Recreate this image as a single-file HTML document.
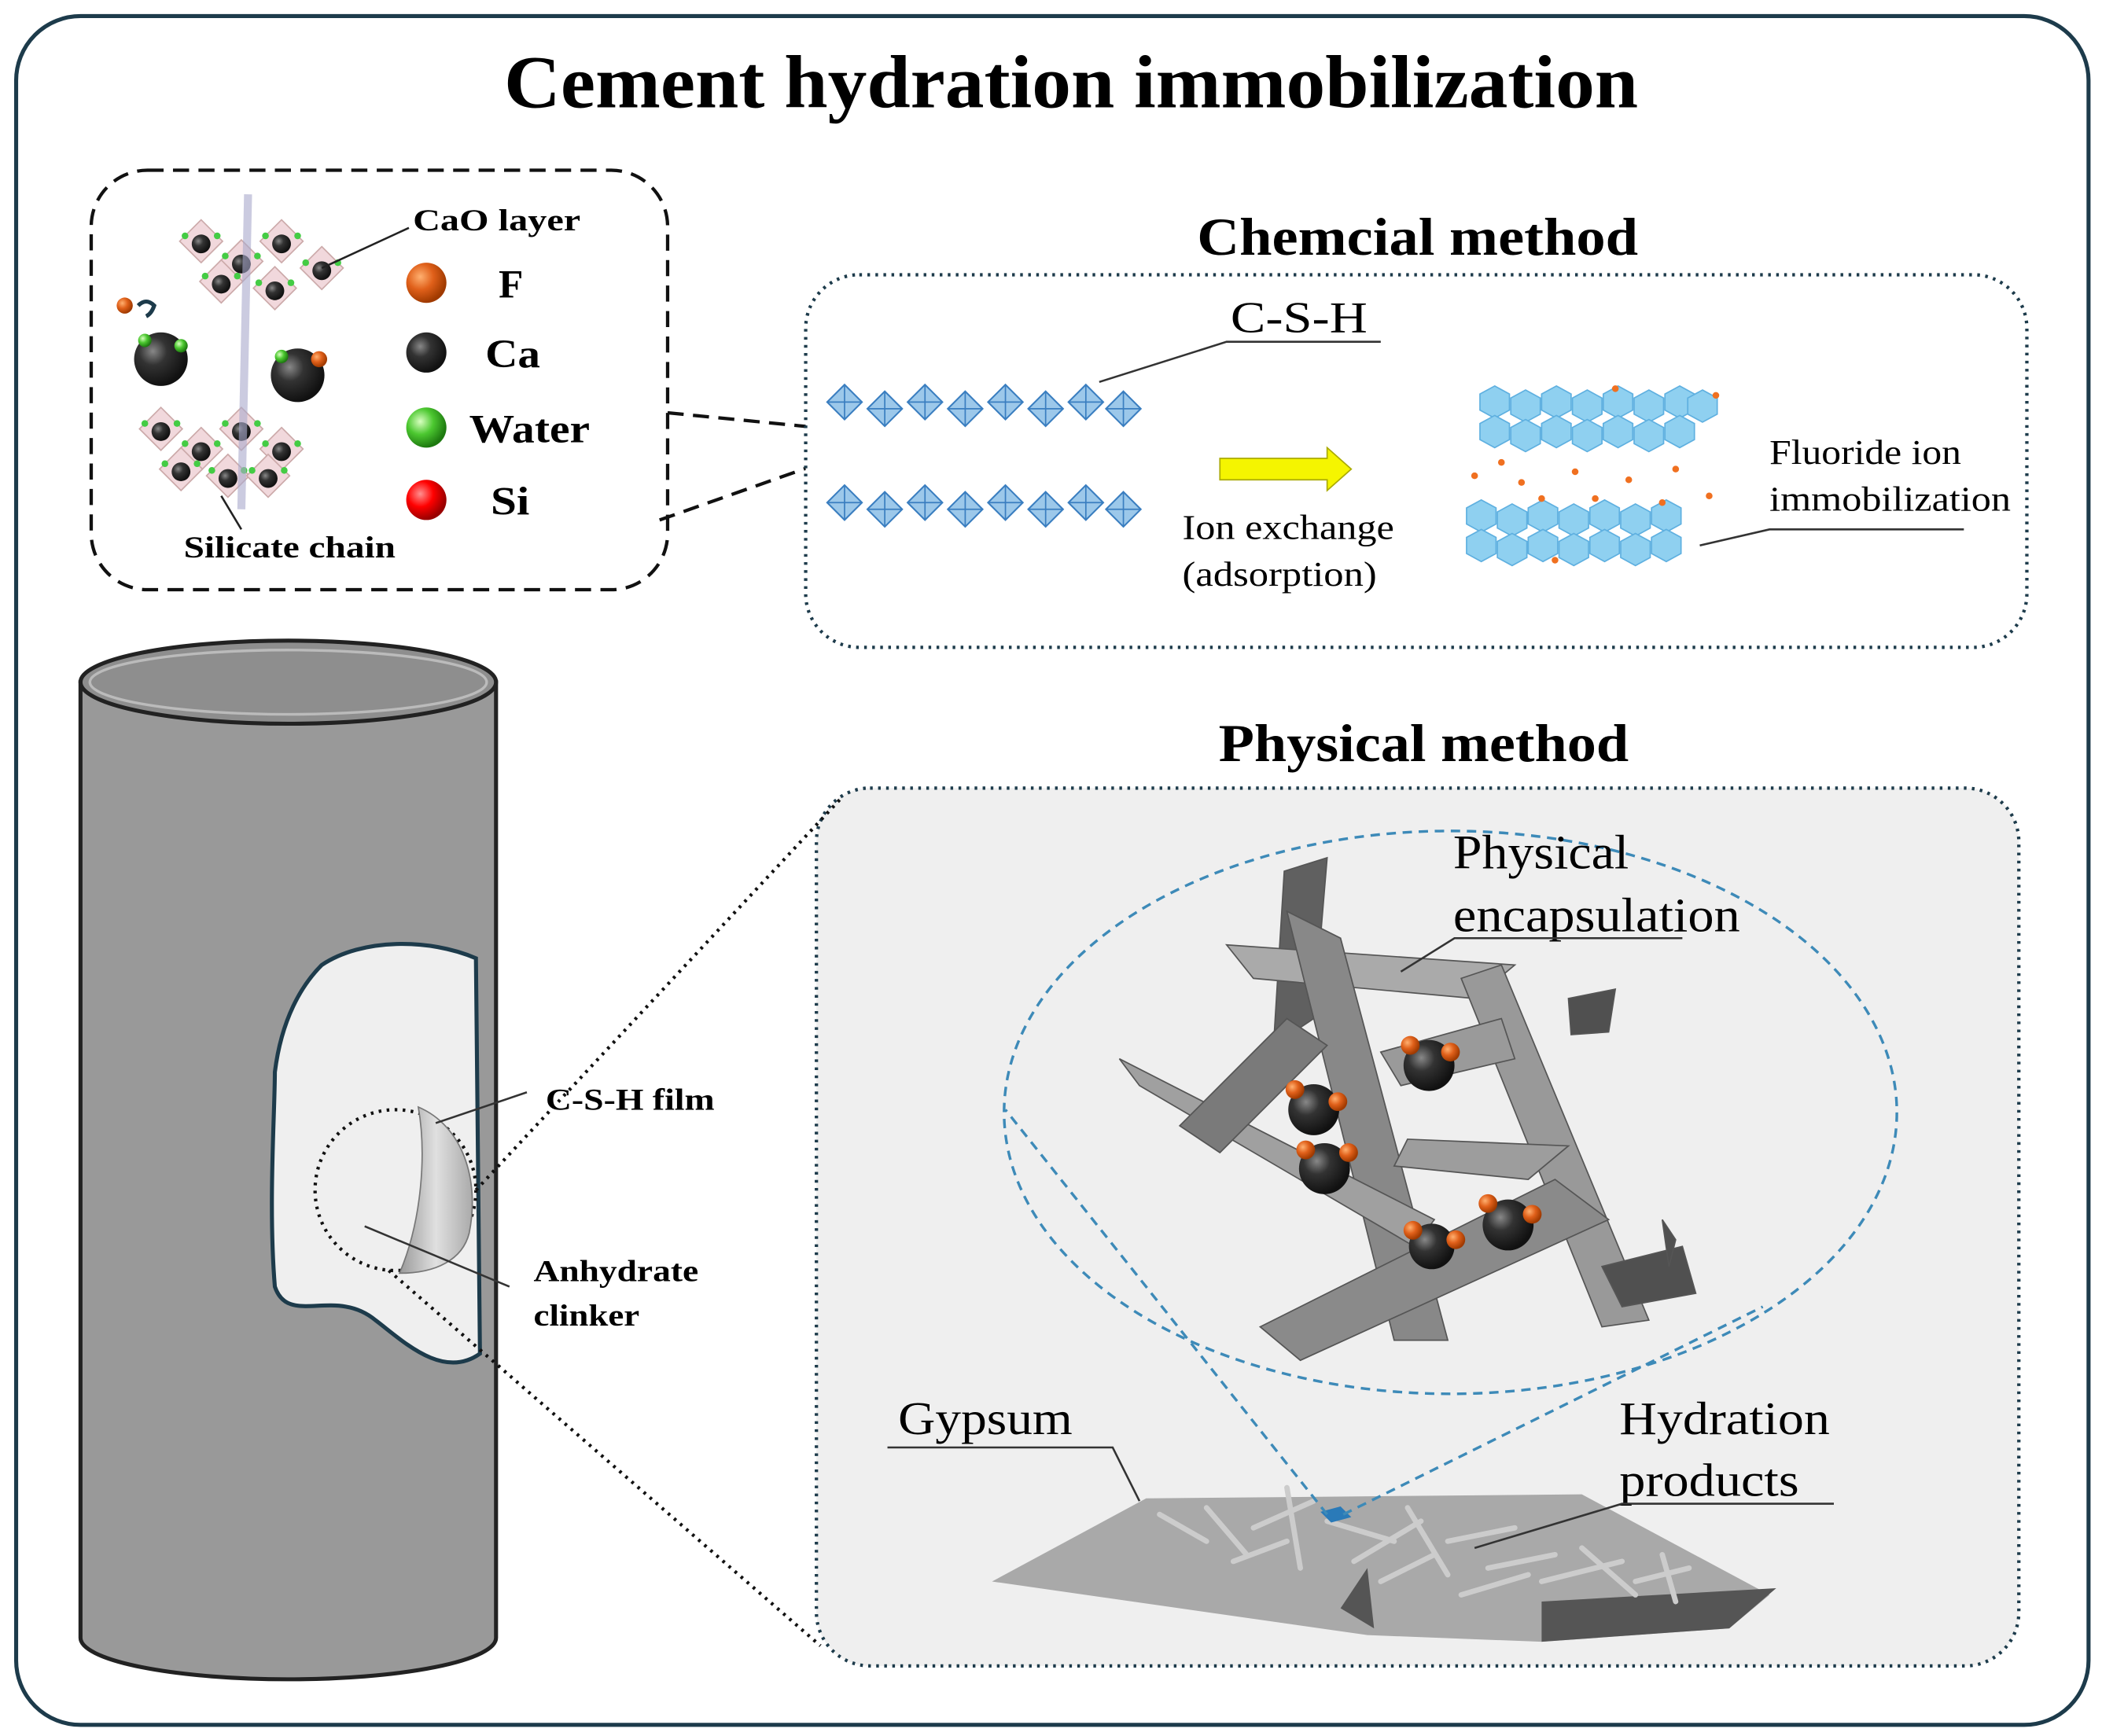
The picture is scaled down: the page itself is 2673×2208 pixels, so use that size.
<!DOCTYPE html>
<html><head><meta charset="utf-8"><style>
html,body{margin:0;padding:0;background:#fff}
svg{display:block}
text{font-family:"Liberation Serif",serif}
</style></head><body>
<svg width="2673" height="2208" viewBox="0 0 1568 1295.3" xmlns="http://www.w3.org/2000/svg">
<defs>
<radialGradient id="ball" cx="35%" cy="35%" r="65%"><stop offset="0" stop-color="#888"/><stop offset="0.4" stop-color="#333"/><stop offset="1" stop-color="#111"/></radialGradient>
<radialGradient id="orb" cx="35%" cy="35%" r="65%"><stop offset="0" stop-color="#ffb070"/><stop offset="0.5" stop-color="#e0601a"/><stop offset="1" stop-color="#a03a00"/></radialGradient>
<radialGradient id="grn" cx="35%" cy="35%" r="65%"><stop offset="0" stop-color="#d8ffc0"/><stop offset="0.5" stop-color="#4cc830"/><stop offset="1" stop-color="#1e7a10"/></radialGradient>
<radialGradient id="red" cx="35%" cy="35%" r="65%"><stop offset="0" stop-color="#ff9090"/><stop offset="0.5" stop-color="#f00"/><stop offset="1" stop-color="#900"/></radialGradient>
<linearGradient id="film" x1="0" x2="1"><stop offset="0" stop-color="#999"/><stop offset="0.5" stop-color="#e0e0e0"/><stop offset="1" stop-color="#aaa"/></linearGradient>
<g id="hex"><polygon points="0,-12 11,-6 11,6 0,12 -11,6 -11,-6" fill="#8fd0f0" stroke="#5fb0e0" stroke-width="1"/></g>
<g id="oct"><polygon points="0,-13 13,0 0,13 -13,0" fill="#9cc8ea" stroke="#3a7ec0" stroke-width="1.2"/><line x1="0" y1="-13" x2="0" y2="13" stroke="#3a7ec0"/><line x1="-13" y1="0" x2="13" y2="0" stroke="#3a7ec0"/></g>
<g id="ptile"><polygon points="0,-16 16,0 0,16 -16,0" fill="#f1d8dc" stroke="#caa" stroke-width="1"/><circle cx="0" cy="2" r="7" fill="url(#ball)"/><circle cx="-12" cy="-4" r="2.5" fill="#4c4"/><circle cx="12" cy="-4" r="2.5" fill="#4c4"/></g>
</defs>

<rect x="12" y="12" width="1546" height="1275" rx="48" fill="#fff" stroke="#1d3b4b" stroke-width="3"/>
<text x="376" y="80" font-size="56" font-weight="bold" textLength="846" lengthAdjust="spacingAndGlyphs">Cement hydration immobilization</text>

<!-- top-left dashed box -->
<rect x="68" y="127" width="430" height="313" rx="42" fill="#fff" stroke="#111" stroke-width="2.5" stroke-dasharray="12,7"/>
<g>
<use href="#ptile" x="150" y="180"/><use href="#ptile" x="180" y="195"/><use href="#ptile" x="210" y="180"/><use href="#ptile" x="240" y="200"/><use href="#ptile" x="165" y="210"/><use href="#ptile" x="205" y="215"/>
<use href="#ptile" x="120" y="320"/><use href="#ptile" x="150" y="335"/><use href="#ptile" x="180" y="320"/><use href="#ptile" x="210" y="335"/><use href="#ptile" x="135" y="350"/><use href="#ptile" x="170" y="355"/><use href="#ptile" x="200" y="355"/>
<line x1="185" y1="145" x2="180" y2="380" stroke="#aac" stroke-width="6" opacity="0.6"/>
<circle cx="120" cy="268" r="20" fill="url(#ball)"/><circle cx="108" cy="254" r="5" fill="url(#grn)"/><circle cx="135" cy="258" r="5" fill="url(#grn)"/>
<circle cx="222" cy="280" r="20" fill="url(#ball)"/><circle cx="238" cy="268" r="6" fill="url(#orb)"/><circle cx="210" cy="266" r="5" fill="url(#grn)"/>
<circle cx="93" cy="228" r="6" fill="url(#orb)"/><path d="M103,228 q6,-6 12,0 q-2,6 -6,8" fill="none" stroke="#1d3b4b" stroke-width="3"/>
<line x1="240" y1="200" x2="305" y2="170" stroke="#222" stroke-width="1.5"/>
<line x1="165" y1="370" x2="180" y2="395" stroke="#222" stroke-width="1.5"/>
</g>
<text x="308" y="172" font-size="23" font-weight="bold" textLength="125" lengthAdjust="spacingAndGlyphs">CaO  layer</text>
<circle cx="318" cy="211" r="15" fill="url(#orb)"/><text x="372" y="222" font-size="30" font-weight="bold">F</text>
<circle cx="318" cy="263" r="15" fill="url(#ball)"/><text x="362" y="274" font-size="30" font-weight="bold" textLength="41" lengthAdjust="spacingAndGlyphs">Ca</text>
<circle cx="318" cy="319" r="15" fill="url(#grn)"/><text x="350" y="330" font-size="30" font-weight="bold" textLength="90" lengthAdjust="spacingAndGlyphs">Water</text>
<circle cx="318" cy="373" r="15" fill="url(#red)"/><text x="366" y="384" font-size="30" font-weight="bold" textLength="29" lengthAdjust="spacingAndGlyphs">Si</text>
<text x="137" y="416" font-size="23" font-weight="bold" textLength="158" lengthAdjust="spacingAndGlyphs">Silicate  chain</text>

<line x1="498" y1="308" x2="640" y2="322" stroke="#111" stroke-width="2.5" stroke-dasharray="12,7"/>
<line x1="492" y1="388" x2="690" y2="318" stroke="#111" stroke-width="2.5" stroke-dasharray="12,7"/>

<!-- Chemical -->
<text x="893" y="190" font-size="40" font-weight="bold" textLength="329" lengthAdjust="spacingAndGlyphs">Chemcial method</text>
<rect x="601" y="205" width="911" height="278" rx="40" fill="#fff" stroke="#1d3b4b" stroke-width="2.5" stroke-dasharray="2,4"/>
<g>
<use href="#oct" x="630" y="300"/><use href="#oct" x="660" y="305"/><use href="#oct" x="690" y="300"/><use href="#oct" x="720" y="305"/><use href="#oct" x="750" y="300"/><use href="#oct" x="780" y="305"/><use href="#oct" x="810" y="300"/><use href="#oct" x="838" y="305"/>
<use href="#oct" x="630" y="375"/><use href="#oct" x="660" y="380"/><use href="#oct" x="690" y="375"/><use href="#oct" x="720" y="380"/><use href="#oct" x="750" y="375"/><use href="#oct" x="780" y="380"/><use href="#oct" x="810" y="375"/><use href="#oct" x="838" y="380"/>
</g>
<polyline points="820,285 915,255 1030,255" fill="none" stroke="#333" stroke-width="1.5"/>
<text x="918" y="248" font-size="33" textLength="102" lengthAdjust="spacingAndGlyphs">C-S-H</text>
<polygon points="910,342 990,342 990,334 1008,350 990,366 990,358 910,358" fill="#f5f500" stroke="#aa0" stroke-width="1"/>
<text x="882" y="402" font-size="26" textLength="158" lengthAdjust="spacingAndGlyphs">Ion exchange</text>
<text x="882" y="437" font-size="26" textLength="145" lengthAdjust="spacingAndGlyphs">(adsorption)</text>
<g>
<use href="#hex" x="1115" y="300"/><use href="#hex" x="1138" y="303"/><use href="#hex" x="1161" y="300"/><use href="#hex" x="1184" y="303"/><use href="#hex" x="1207" y="300"/><use href="#hex" x="1230" y="303"/><use href="#hex" x="1253" y="300"/><use href="#hex" x="1270" y="303"/>
<use href="#hex" x="1115" y="322"/><use href="#hex" x="1138" y="325"/><use href="#hex" x="1161" y="322"/><use href="#hex" x="1184" y="325"/><use href="#hex" x="1207" y="322"/><use href="#hex" x="1230" y="325"/><use href="#hex" x="1253" y="322"/>
<use href="#hex" x="1105" y="385"/><use href="#hex" x="1128" y="388"/><use href="#hex" x="1151" y="385"/><use href="#hex" x="1174" y="388"/><use href="#hex" x="1197" y="385"/><use href="#hex" x="1220" y="388"/><use href="#hex" x="1243" y="385"/>
<use href="#hex" x="1105" y="407"/><use href="#hex" x="1128" y="410"/><use href="#hex" x="1151" y="407"/><use href="#hex" x="1174" y="410"/><use href="#hex" x="1197" y="407"/><use href="#hex" x="1220" y="410"/><use href="#hex" x="1243" y="407"/>
<g fill="#f07020"><circle cx="1100" cy="355" r="2.5"/><circle cx="1135" cy="360" r="2.5"/><circle cx="1175" cy="352" r="2.5"/><circle cx="1215" cy="358" r="2.5"/><circle cx="1250" cy="350" r="2.5"/><circle cx="1275" cy="370" r="2.5"/><circle cx="1205" cy="290" r="2.5"/><circle cx="1280" cy="295" r="2.5"/><circle cx="1150" cy="372" r="2.5"/><circle cx="1190" cy="372" r="2.5"/><circle cx="1240" cy="375" r="2.5"/><circle cx="1120" cy="345" r="2.5"/><circle cx="1160" cy="418" r="2.5"/></g>
</g>
<text x="1320" y="346" font-size="26" textLength="143" lengthAdjust="spacingAndGlyphs">Fluoride ion</text>
<text x="1320" y="381" font-size="26" textLength="180" lengthAdjust="spacingAndGlyphs">immobilization</text>
<polyline points="1268,407 1320,395 1465,395" fill="none" stroke="#333" stroke-width="1.5"/>

<!-- Physical -->
<text x="909" y="568" font-size="40" font-weight="bold" textLength="306" lengthAdjust="spacingAndGlyphs">Physical method</text>
<rect x="609" y="588" width="897" height="655" rx="40" fill="#efefef" stroke="#1d3b4b" stroke-width="2.5" stroke-dasharray="2,4"/>
<ellipse cx="1082" cy="830" rx="333" ry="210" fill="none" stroke="#3d8ab8" stroke-width="2" stroke-dasharray="7,5"/>
<g stroke="#555" stroke-width="1">
<polygon points="958,650 990,640 980,760 950,780" fill="#606060"/>
<polygon points="915,705 1130,720 1100,745 935,730" fill="#aaa"/>
<polygon points="960,680 1000,700 1080,1000 1040,1000" fill="#888"/>
<polygon points="1090,730 1120,720 1230,985 1195,990" fill="#999"/>
<polygon points="835,790 1070,910 1055,930 850,810" fill="#a0a0a0"/>
<polygon points="940,990 1160,880 1200,910 970,1015" fill="#8a8a8a"/>
<polygon points="880,840 960,760 990,780 910,860" fill="#7a7a7a"/>
<polygon points="1030,785 1120,760 1130,790 1045,810" fill="#9a9a9a"/>
<polygon points="1170,745 1205,738 1200,770 1172,772" fill="#505050"/>
<polygon points="1195,945 1255,930 1265,965 1210,975" fill="#505050"/>
<polygon points="1240,910 1250,925 1245,945" fill="#505050"/>
<polygon points="1050,850 1170,855 1140,880 1040,870" fill="#9d9d9d"/>
</g>
<g>
<circle cx="980" cy="828" r="19" fill="url(#ball)"/><circle cx="966" cy="813" r="7" fill="url(#orb)"/><circle cx="998" cy="822" r="7" fill="url(#orb)"/>
<circle cx="988" cy="872" r="19" fill="url(#ball)"/><circle cx="974" cy="858" r="7" fill="url(#orb)"/><circle cx="1006" cy="860" r="7" fill="url(#orb)"/>
<circle cx="1066" cy="795" r="19" fill="url(#ball)"/><circle cx="1052" cy="780" r="7" fill="url(#orb)"/><circle cx="1082" cy="785" r="7" fill="url(#orb)"/>
<circle cx="1068" cy="930" r="17" fill="url(#ball)"/><circle cx="1054" cy="918" r="7" fill="url(#orb)"/><circle cx="1086" cy="925" r="7" fill="url(#orb)"/>
<circle cx="1125" cy="914" r="19" fill="url(#ball)"/><circle cx="1110" cy="898" r="7" fill="url(#orb)"/><circle cx="1143" cy="906" r="7" fill="url(#orb)"/>
</g>
<text x="1084" y="648" font-size="36" textLength="131" lengthAdjust="spacingAndGlyphs">Physical</text>
<text x="1084" y="695" font-size="36" textLength="214" lengthAdjust="spacingAndGlyphs">encapsulation</text>
<polyline points="1045,725 1085,700 1255,700" fill="none" stroke="#333" stroke-width="1.5"/>
<polygon points="740,1180 855,1118 1180,1115 1320,1190 1290,1215 1150,1225 1020,1220" fill="#a9a9a9"/>
<polygon points="1150,1195 1325,1185 1290,1215 1150,1225" fill="#555"/>
<polygon points="1000,1200 1020,1170 1025,1215" fill="#555"/>
<g stroke="#ccc" stroke-width="4" stroke-linecap="round">
<line x1="865" y1="1130" x2="900" y2="1150"/><line x1="900" y1="1125" x2="930" y2="1160"/><line x1="935" y1="1140" x2="980" y2="1120"/><line x1="960" y1="1110" x2="970" y2="1170"/><line x1="990" y1="1135" x2="1040" y2="1150"/><line x1="1010" y1="1165" x2="1060" y2="1135"/><line x1="1050" y1="1125" x2="1080" y2="1175"/><line x1="1080" y1="1150" x2="1130" y2="1140"/><line x1="1110" y1="1170" x2="1160" y2="1160"/><line x1="1150" y1="1180" x2="1210" y2="1165"/><line x1="1180" y1="1155" x2="1220" y2="1190"/><line x1="1220" y1="1180" x2="1260" y2="1170"/><line x1="920" y1="1165" x2="960" y2="1150"/><line x1="1030" y1="1180" x2="1070" y2="1160"/><line x1="1090" y1="1190" x2="1140" y2="1175"/><line x1="1240" y1="1160" x2="1250" y2="1195"/>
</g>
<polygon points="985,1128 1000,1124 1008,1132 993,1136" fill="#2a7ab8"/>
<line x1="990" y1="1130" x2="750" y2="828" stroke="#3d8ab8" stroke-width="2" stroke-dasharray="7,5"/>
<line x1="1002" y1="1130" x2="1315" y2="975" stroke="#3d8ab8" stroke-width="2" stroke-dasharray="7,5"/>
<text x="670" y="1070" font-size="35" textLength="130" lengthAdjust="spacingAndGlyphs">Gypsum</text>
<polyline points="662,1080 830,1080 850,1120" fill="none" stroke="#333" stroke-width="1.5"/>
<text x="1208" y="1070" font-size="35" textLength="157" lengthAdjust="spacingAndGlyphs">Hydration</text>
<text x="1208" y="1116" font-size="35" textLength="134" lengthAdjust="spacingAndGlyphs">products</text>
<polyline points="1100,1155 1210,1122 1368,1122" fill="none" stroke="#333" stroke-width="1.5"/>

<!-- cylinder -->
<path d="M60,509 L60,1222 A155,31 0 0 0 370,1222 L370,509 Z" fill="#999" stroke="#222" stroke-width="3"/>
<ellipse cx="215" cy="509" rx="155" ry="31" fill="#8e8e8e" stroke="#222" stroke-width="3"/>
<ellipse cx="215" cy="509" rx="148" ry="24" fill="none" stroke="#bbb" stroke-width="2"/>
<path d="M240,720 C270,700 320,700 355,715 L358,1010 C330,1030 300,1000 280,985 C250,960 215,990 205,960 C200,900 205,830 205,800 C210,760 225,735 240,720 Z" fill="#efefef" stroke="#1d3b4b" stroke-width="3"/>
<circle cx="295" cy="888" r="60" fill="none" stroke="#111" stroke-width="2.5" stroke-dasharray="2,4"/>
<path d="M312,826 C345,840 358,880 350,920 C345,940 325,950 298,950 C315,910 318,860 312,826 Z" fill="url(#film)" stroke="#777" stroke-width="1"/>
<line x1="355" y1="888" x2="628" y2="595" stroke="#111" stroke-width="2.5" stroke-dasharray="2,4"/>
<line x1="290" y1="948" x2="612" y2="1228" stroke="#111" stroke-width="2.5" stroke-dasharray="2,4"/>
<line x1="325" y1="838" x2="393" y2="815" stroke="#333" stroke-width="1.5"/>
<text x="407" y="828" font-size="23" font-weight="bold" textLength="126" lengthAdjust="spacingAndGlyphs">C-S-H film</text>
<line x1="272" y1="915" x2="380" y2="960" stroke="#333" stroke-width="1.5"/>
<text x="398" y="956" font-size="23" font-weight="bold" textLength="123" lengthAdjust="spacingAndGlyphs">Anhydrate</text>
<text x="398" y="989" font-size="23" font-weight="bold" textLength="79" lengthAdjust="spacingAndGlyphs">clinker</text>
</svg>
</body></html>
